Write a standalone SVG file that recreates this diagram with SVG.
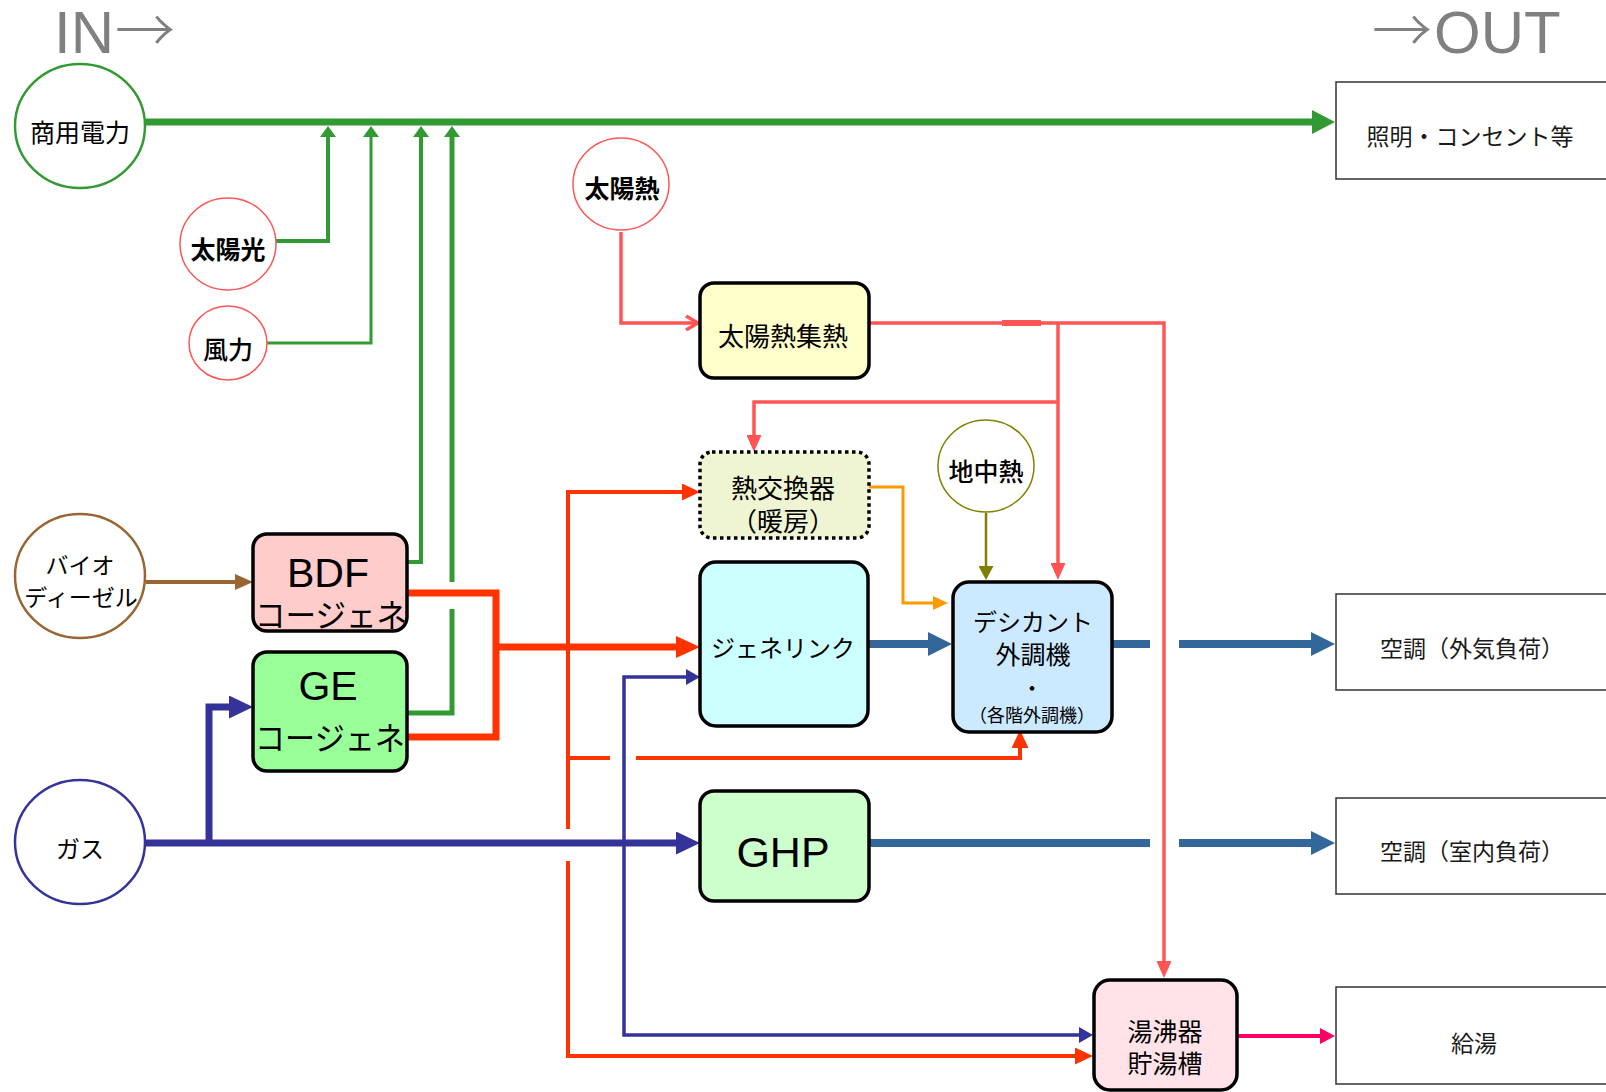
<svg xmlns="http://www.w3.org/2000/svg" width="1606" height="1092" viewBox="0 0 1606 1092">
<style>
.jp{font-family:"Noto Sans CJK JP","Noto Sans CJK SC",sans-serif;fill:#000;text-anchor:middle}
.lat{font-family:"Liberation Sans","Noto Sans CJK JP",sans-serif;fill:#000;text-anchor:middle}
.out{font-family:"Noto Sans CJK JP",sans-serif;font-weight:400;fill:#1a1a1a;text-anchor:middle;font-size:23px}
.big{font-family:"Liberation Sans","Noto Sans CJK JP",sans-serif;fill:#808080;font-size:60px}
.arr{font-family:"Noto Sans CJK JP",sans-serif;font-weight:300}
.box{stroke:#000;stroke-width:3.5}
.obox{fill:#fff;stroke:#333;stroke-width:1.5}
.g{stroke:#339933}
.r{stroke:#ff3300}
.s{stroke:#ff5555}
.n{stroke:#333399}
.b{stroke:#336699}
</style>
<defs>
<marker id="aG" markerUnits="userSpaceOnUse" orient="auto" viewBox="0 0 23 24" markerWidth="23" markerHeight="24" refX="0" refY="12"><path d="M0,0L23,12L0,24z" fill="#339933"/></marker>
<marker id="aGs" markerUnits="userSpaceOnUse" orient="auto" viewBox="0 0 11 16" markerWidth="11" markerHeight="16" refX="0" refY="8"><path d="M0,0L11,8L0,16z" fill="#339933"/></marker>
<marker id="aR" markerUnits="userSpaceOnUse" orient="auto" viewBox="0 0 24 22" markerWidth="24" markerHeight="22" refX="0" refY="11"><path d="M0,0L24,11L0,22z" fill="#ff3300"/></marker>
<marker id="aRs" markerUnits="userSpaceOnUse" orient="auto" viewBox="0 0 18 17" markerWidth="18" markerHeight="17" refX="0" refY="8.5"><path d="M0,0L18,8.5L0,17z" fill="#ff3300"/></marker>
<marker id="aS" markerUnits="userSpaceOnUse" orient="auto" viewBox="0 0 17 15" markerWidth="17" markerHeight="15" refX="0" refY="7.5"><path d="M0,0L17,7.5L0,15z" fill="#ff5555"/></marker>
<marker id="aSo" markerUnits="userSpaceOnUse" orient="auto" viewBox="0 0 15 16" markerWidth="15" markerHeight="16" refX="13" refY="8"><path d="M1,1L13,8L1,15" fill="none" stroke="#ff5555" stroke-width="3.5"/></marker>
<marker id="aN" markerUnits="userSpaceOnUse" orient="auto" viewBox="0 0 24 23" markerWidth="24" markerHeight="23" refX="0" refY="11.5"><path d="M0,0L24,11.5L0,23z" fill="#333399"/></marker>
<marker id="aNs" markerUnits="userSpaceOnUse" orient="auto" viewBox="0 0 14 16" markerWidth="14" markerHeight="16" refX="0" refY="8"><path d="M0,0L14,8L0,16z" fill="#333399"/></marker>
<marker id="aB" markerUnits="userSpaceOnUse" orient="auto" viewBox="0 0 24 24" markerWidth="24" markerHeight="24" refX="0" refY="12"><path d="M0,0L24,12L0,24z" fill="#336699"/></marker>
<marker id="aBr" markerUnits="userSpaceOnUse" orient="auto" viewBox="0 0 18 16" markerWidth="18" markerHeight="16" refX="0" refY="8"><path d="M0,0L18,8L0,16z" fill="#996633"/></marker>
<marker id="aO" markerUnits="userSpaceOnUse" orient="auto" viewBox="0 0 15 14" markerWidth="15" markerHeight="14" refX="0" refY="7"><path d="M0,0L15,7L0,14z" fill="#ff9900"/></marker>
<marker id="aOl" markerUnits="userSpaceOnUse" orient="auto" viewBox="0 0 14 15" markerWidth="14" markerHeight="15" refX="0" refY="7.5"><path d="M0,0L14,7.5L0,15z" fill="#808000"/></marker>
<marker id="aP" markerUnits="userSpaceOnUse" orient="auto" viewBox="0 0 15 16" markerWidth="15" markerHeight="16" refX="0" refY="8"><path d="M0,0L15,8L0,16z" fill="#ff0066"/></marker>
</defs>
<rect width="1606" height="1092" fill="#fff"/>
<g id="title-in"><text class="big" x="54" y="53">IN<tspan class="arr" x="115">→</tspan></text></g>
<g id="title-out"><text class="big" x="1372" y="53"><tspan class="arr">→</tspan><tspan x="1434">OUT</tspan></text></g>

<g id="connectors" fill="none" stroke-linejoin="miter">
  <path class="g" stroke-width="7" d="M146,122H1312" marker-end="url(#aG)"/>
  <path class="g" stroke-width="4" d="M275,241H328V137" marker-end="url(#aGs)"/>
  <path class="g" stroke-width="3" d="M266,343H371V137" marker-end="url(#aGs)"/>
  <path class="g" stroke-width="4" d="M407,562H421V137" marker-end="url(#aGs)"/>
  <path class="g" stroke-width="5" d="M407,713H452V609"/>
  <path class="g" stroke-width="5" d="M452,582V137" marker-end="url(#aGs)"/>
  <path stroke="#996633" stroke-width="4" d="M146,582H235" marker-end="url(#aBr)"/>
  <path class="r" stroke-width="7" d="M407,593H496V737H407"/>
  <path class="r" stroke-width="7" d="M496,647H676" marker-end="url(#aR)"/>
  <path class="r" stroke-width="4" d="M568,647V492H682" marker-end="url(#aRs)"/>
  <path class="r" stroke-width="4" d="M568,647V758H610"/>
  <path class="r" stroke-width="4" d="M636,758H1020V748" marker-end="url(#aRs)"/>
  <path class="r" stroke-width="4" d="M568,758V829"/>
  <path class="r" stroke-width="4" d="M568,861V1056H1075" marker-end="url(#aRs)"/>
  <path class="s" stroke-width="3.5" d="M621,232V323H698" marker-end="url(#aSo)"/>
  <path class="s" stroke-width="3.5" d="M869,323H1164V961" marker-end="url(#aS)"/>
  <path class="s" stroke-width="6" d="M1002,323H1041"/>
  <path class="s" stroke-width="3.5" d="M1058,323V563" marker-end="url(#aS)"/>
  <path class="s" stroke-width="3.5" d="M1058,402H754V435" marker-end="url(#aS)"/>
  <path stroke="#808000" stroke-width="2.5" d="M986,513V566" marker-end="url(#aOl)"/>
  <path stroke="#ff9900" stroke-width="3" d="M869,487H903V603H933" marker-end="url(#aO)"/>
  <path class="n" stroke-width="7" d="M146,843H676" marker-end="url(#aN)"/>
  <path class="n" stroke-width="7" d="M209,843V707H229" marker-end="url(#aN)"/>
  <path class="n" stroke-width="3.5" d="M624,843V677H686" marker-end="url(#aNs)"/>
  <path class="n" stroke-width="3.5" d="M624,843V1035H1079" marker-end="url(#aNs)"/>
  <path class="b" stroke-width="8" d="M869,644H928" marker-end="url(#aB)"/>
  <path class="b" stroke-width="8" d="M1112,644H1150"/>
  <path class="b" stroke-width="8" d="M1179,644H1311" marker-end="url(#aB)"/>
  <path class="b" stroke-width="8" d="M869,843H1150"/>
  <path class="b" stroke-width="8" d="M1179,843H1311" marker-end="url(#aB)"/>
  <path stroke="#ff0066" stroke-width="4" d="M1237,1036H1320" marker-end="url(#aP)"/>
</g>

<g id="n-grid"><ellipse cx="80" cy="126" rx="65" ry="62" fill="#fff" stroke="#339933" stroke-width="2.5"/><text class="jp" x="80" y="142" font-size="25">商用電力</text></g>
<g id="n-pv"><ellipse cx="228" cy="244" rx="48" ry="46" fill="#fff" stroke="#ff5555" stroke-width="1.5"/><text class="jp" x="228" y="259" font-size="25" font-weight="600">太陽光</text></g>
<g id="n-wind"><ellipse cx="228" cy="343" rx="39" ry="37" fill="#fff" stroke="#ff5555" stroke-width="1.5"/><text class="jp" x="228" y="359" font-size="25" font-weight="500">風力</text></g>
<g id="n-solarheat"><ellipse cx="621" cy="184" rx="48" ry="46" fill="#fff" stroke="#ff5555" stroke-width="1.5"/><text class="jp" x="622" y="198" font-size="25" font-weight="700">太陽熱</text></g>
<g id="n-geo"><ellipse cx="986" cy="466" rx="48" ry="46" fill="#fff" stroke="#808000" stroke-width="1.5"/><text class="jp" x="986" y="481" font-size="25" font-weight="500">地中熱</text></g>
<g id="n-bio"><ellipse cx="80" cy="576" rx="65" ry="62" fill="#fff" stroke="#996633" stroke-width="2.5"/><text class="jp" x="80" y="574" font-size="23">バイオ</text><text class="jp" x="81" y="606" font-size="23">ディーゼル</text></g>
<g id="n-gas"><ellipse cx="80" cy="842" rx="65" ry="62" fill="#fff" stroke="#333399" stroke-width="2.5"/><text class="jp" x="80" y="858" font-size="24">ガス</text></g>

<g id="n-bdf"><rect class="box" x="253" y="534" width="154" height="97" rx="14" fill="#ffcccc"/><text class="lat" x="328" y="587" font-size="41">BDF</text><text class="jp" x="331" y="627" font-size="32" textLength="152" lengthAdjust="spacingAndGlyphs">コージェネ</text></g>
<g id="n-ge"><rect class="box" x="253" y="652" width="154" height="119" rx="14" fill="#99ff99"/><text class="lat" x="328" y="700" font-size="41">GE</text><text class="jp" x="330" y="750" font-size="32" textLength="150" lengthAdjust="spacingAndGlyphs">コージェネ</text></g>
<g id="n-collector"><rect class="box" x="700" y="283" width="169" height="95" rx="14" fill="#ffffcc"/><text class="jp" x="783" y="346" font-size="26">太陽熱集熱</text></g>
<g id="n-hex"><rect x="700" y="452" width="169" height="86" rx="12" fill="#eff5d2" stroke="#000" stroke-width="3.5" stroke-dasharray="3.5 3.5"/><text class="jp" x="783" y="498" font-size="26">熱交換器</text><text class="jp" x="783" y="531" font-size="26">（暖房）</text></g>
<g id="n-genelink"><rect class="box" x="700" y="562" width="168" height="164" rx="16" fill="#ccffff"/><text class="jp" x="783" y="657" font-size="24">ジェネリンク</text></g>
<g id="n-desiccant"><rect class="box" x="953" y="582" width="159" height="150" rx="16" fill="#cceaff"/><text class="jp" x="1033" y="631" font-size="24">デシカント</text><text class="jp" x="1033" y="664" font-size="25">外調機</text><text class="jp" x="1032" y="696" font-size="22">・</text><text class="jp" x="1032" y="722" font-size="18">（各階外調機）</text></g>
<g id="n-ghp"><rect class="box" x="700" y="791" width="169" height="110" rx="14" fill="#ccffcc"/><text class="lat" x="783" y="867" font-size="43">GHP</text></g>
<g id="n-boiler"><rect class="box" x="1094" y="980" width="143" height="110" rx="16" fill="#ffe3e8"/><text class="jp" x="1165" y="1041" font-size="25">湯沸器</text><text class="jp" x="1165" y="1073" font-size="25">貯湯槽</text></g>

<g id="n-light"><rect class="obox" x="1336" y="82" width="300" height="97"/><text class="out" x="1470" y="145" font-size="22">照明・コンセント等</text></g>
<g id="n-ac-out"><rect class="obox" x="1336" y="594" width="300" height="96"/><text class="out" x="1472" y="657">空調（外気負荷）</text></g>
<g id="n-ac-in"><rect class="obox" x="1336" y="798" width="300" height="96"/><text class="out" x="1472" y="860">空調（室内負荷）</text></g>
<g id="n-hw"><rect class="obox" x="1336" y="987" width="300" height="97"/><text class="out" x="1474" y="1052" font-size="25">給湯</text></g>
</svg>
